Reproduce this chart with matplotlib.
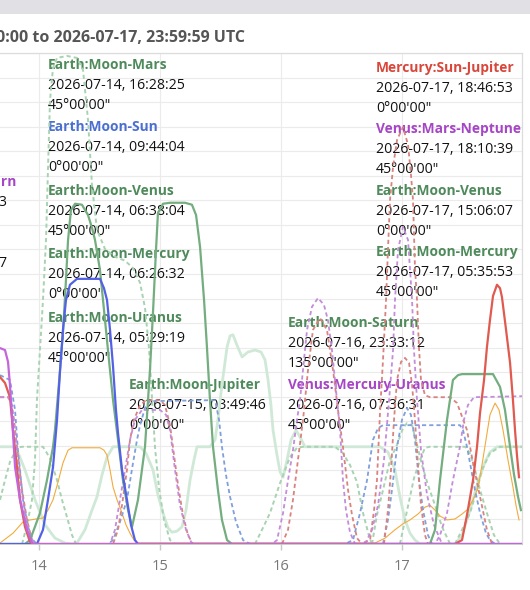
import matplotlib
matplotlib.use('Agg')
import matplotlib.pyplot as plt
from matplotlib.patches import Rectangle

plt.rcParams['font.family'] = ['Open Sans', 'DejaVu Sans']
plt.rcParams['lines.scale_dashes'] = False

# ---------------- data (day of July 2026, orb strength 0-100) ----------------
tick_days = [14, 15, 16, 17]
tick_labels = ["14", "15", "16", "17"]

green_solid_t = [13.678, 13.884, 13.926, 14.008, 14.066, 14.116, 14.132, 14.174, 14.198, 14.223, 14.240, 14.264,
                 14.298, 14.355, 14.405, 14.438, 14.463, 14.504, 14.529, 14.570, 14.612, 14.653, 14.694, 14.736,
                 14.769, 14.818, 14.876, 14.917, 14.942, 14.967, 14.983, 15.025, 15.083, 15.207, 15.264, 15.298,
                 15.331, 15.364, 15.388, 15.413, 15.438, 15.479, 15.512, 15.554, 15.595, 17.231, 17.273, 17.314,
                 17.372, 17.421, 17.463, 17.496, 17.752, 17.810, 17.851, 17.893, 17.926, 17.959, 17.983]
green_solid_v = [0, 0, 0.8, 6.3, 13.0, 19.8, 23.2, 35.4, 43.0, 53.8, 61.9, 68.0,
                 69.3, 69.1, 67.0, 64.4, 61.9, 55.8, 49.7, 39.5, 29.3, 21.2, 13.0, 6.9,
                 3.5, 9.0, 19.8, 35.4, 47.1, 59.9, 67.4, 69.3, 69.5, 69.5, 69.1, 67.0,
                 60.5, 49.7, 40.1, 29.3, 19.8, 11.0, 4.9, 0.8, 0, 0, 2.9, 13.0,
                 25.3, 33.4, 34.4, 34.6, 34.6, 32.0, 27.3, 19.8, 14.1, 9.6, 6.9]

blue_solid_t = [13.678, 13.983, 14.033, 14.074, 14.116, 14.149, 14.174, 14.198, 14.223, 14.256, 14.314, 14.504,
                14.537, 14.562, 14.587, 14.612, 14.636, 14.653, 14.686, 14.727, 14.760, 14.793, 14.818, 17.992]
blue_solid_v = [0, 0, 2.9, 9.0, 15.7, 25.3, 35.4, 43.6, 49.7, 52.8, 54.0, 54.0,
                52.1, 49.7, 43.6, 36.1, 27.3, 22.6, 15.1, 9.0, 3.9, 0.8, 0, 0]

red_solid_t = [13.678, 13.719, 13.760, 13.785, 13.818, 13.843, 13.884, 13.926, 13.959, 17.438, 17.496, 17.537,
               17.587, 17.620, 17.645, 17.678, 17.702, 17.727, 17.752, 17.785, 17.810, 17.826, 17.860, 17.893,
               17.917, 17.934, 17.950, 17.967]
red_solid_v = [34.0, 32.8, 29.9, 23.2, 15.7, 9.0, 3.5, 0.4, 0, 0, 0.8, 5.9,
               13.0, 19.8, 26.7, 33.4, 40.1, 45.6, 50.5, 52.8, 52.1, 50.3, 43.6, 36.9,
               29.3, 23.2, 18.1, 13.6]

purple_solid_t = [13.678, 13.719, 13.744, 13.760, 13.777, 13.802, 13.843, 13.901, 13.942, 13.967, 17.992]
purple_solid_v = [39.9, 39.5, 37.1, 32.4, 25.9, 15.7, 9.0, 2.9, 0.2, 0, 0]

blue_dash_t = [13.678, 13.760, 13.802, 13.826, 13.868, 13.909, 13.950, 13.983,
               14.570, 14.612, 14.669, 14.727, 14.777, 14.810, 14.835, 14.876, 14.917, 15.455, 15.488, 15.512,
               15.545, 15.579, 15.628, 15.686, 15.744,
               16.529, 16.595, 16.653, 16.711, 16.760, 16.802, 16.843, 17.479, 17.504, 17.537, 17.562, 17.603,
               17.645, 17.694, 17.727, 17.769, 17.992]
blue_dash_v = [34.4, 33.4, 27.3, 19.1, 9.0, 3.5, 0.8, 0,
               0, 0.8, 4.5, 9.0, 16.5, 21.2, 24.2, 27.7, 29.1, 29.3, 25.3, 19.8,
               14.1, 9.6, 4.5, 0.8, 0,
               0, 0.8, 6.3, 13.0, 21.2, 23.6, 24.2, 24.2, 23.2, 19.8, 16.5, 11.0,
               6.3, 2.2, 0.8, 0, 0]

blue_dash2_t = [16.843, 16.884, 16.917, 16.959, 17.000, 17.041, 17.074, 17.107, 17.140, 17.174, 17.215, 17.248]
blue_dash2_v = [0, 4.9, 11.0, 19.8, 25.3, 27.7, 26.3, 21.2, 13.0, 6.9, 1.8, 0]

red_dash_t = [13.678, 13.760, 13.793, 13.826, 13.860, 13.901, 13.942, 13.967,
              14.612, 14.653, 14.686, 14.727, 14.752, 14.785, 14.835, 14.884, 15.000, 15.041, 15.083, 15.116,
              15.149, 15.190, 15.231, 15.273,
              16.653, 16.736, 16.769, 16.793, 16.818, 16.843, 16.868, 16.884, 16.901, 16.926, 16.959, 17.008,
              17.050, 17.074, 17.091, 17.107, 17.124, 17.140, 17.157, 17.190, 17.231, 17.397, 17.455, 17.537,
              17.587, 17.645, 17.702, 17.744]
red_dash_v = [29.9, 29.9, 25.3, 18.1, 11.0, 4.9, 0.8, 0,
              0, 2.9, 7.9, 15.1, 21.2, 25.3, 28.3, 29.3, 29.3, 28.3, 24.2, 18.1,
              12.0, 5.9, 1.8, 0,
              0, 0.8, 6.9, 13.0, 26.7, 37.5, 49.7, 59.9, 70.1, 76.8, 82.3, 84.9,
              81.3, 75.2, 70.1, 56.4, 49.7, 40.1, 33.4, 30.3, 29.9, 29.9, 28.7, 23.2,
              16.5, 9.6, 2.9, 0]

red_dash2_t = [16.851, 16.884, 16.909, 16.934, 16.959, 16.992, 17.025, 17.058, 17.083, 17.107, 17.132,
               17.157, 17.190, 17.215]
red_dash2_v = [0, 6.9, 15.1, 25.3, 33.4, 37.1, 37.9, 36.9, 32.4, 25.3, 16.1, 7.9, 1.8, 0]

red_dash3_t = [16.008, 16.058, 16.099, 16.140, 16.182, 16.223, 16.264, 16.322, 16.380, 16.430, 16.471,
               16.512, 16.554, 16.587, 16.628, 16.669]
red_dash3_v = [0, 2.9, 9.0, 17.1, 25.3, 35.4, 43.6, 46.0, 43.6, 35.4, 27.3, 19.8, 11.0, 5.9, 1.2, 0]

purple_dash_t = [13.678, 13.744, 13.777, 13.810, 13.843, 13.884, 13.926, 13.959,
                 14.587, 14.628, 14.669, 14.711, 14.752, 14.793, 14.851, 15.000, 15.050, 15.083, 15.124,
                 15.165, 15.215, 15.264,
                 15.926, 15.967, 16.017, 16.058, 16.099, 16.132, 16.157, 16.190, 16.215, 16.256, 16.306,
                 16.355, 16.388, 16.421, 16.446, 16.471, 16.488, 16.512, 16.537, 16.570, 16.612,
                 17.273, 17.314, 17.372, 17.421, 17.479, 17.512, 17.545, 17.595, 17.992]
purple_dash_v = [29.9, 29.9, 28.3, 21.2, 13.0, 5.9, 1.8, 0,
                 0, 2.9, 9.0, 15.1, 21.2, 25.3, 27.3, 27.3, 26.3, 23.2, 15.1,
                 7.9, 2.9, 0,
                 0, 0.8, 6.3, 13.0, 19.1, 25.3, 29.3, 37.5, 43.6, 48.3, 50.1,
                 48.7, 45.6, 39.5, 33.4, 27.3, 23.2, 13.0, 6.9, 2.4, 0,
                 0, 1.8, 6.3, 13.0, 19.8, 25.3, 28.3, 29.9, 30.1]

purple_dash2_t = [16.694, 16.752, 16.802, 16.851, 16.893, 16.926, 16.942, 16.967, 17.008, 17.050, 17.083,
                  17.099, 17.124, 17.157, 17.207, 17.264, 17.331]
purple_dash2_v = [0, 2.9, 7.9, 17.1, 29.3, 39.5, 49.7, 59.9, 64.6, 61.9, 49.7, 39.5, 29.3, 19.1, 10.0, 3.9, 0]

orange_t = [13.678, 13.785, 13.868, 13.926, 14.033, 14.074, 14.116, 14.157, 14.198, 14.240, 14.273, 14.504,
            14.537, 14.562, 14.587, 14.612, 14.645, 14.686, 14.719, 14.752, 14.785, 14.818, 16.777, 16.860,
            16.942, 17.008, 17.066, 17.132, 17.190, 17.231, 17.273, 17.314, 17.372, 17.438, 17.496, 17.545,
            17.587, 17.628, 17.661, 17.694, 17.727, 17.769, 17.802, 17.835, 17.876, 17.917, 17.942, 17.967]
orange_v = [0.2, 2.2, 4.5, 4.9, 5.3, 6.9, 9.0, 12.6, 16.5, 19.1, 19.6, 19.6,
            19.1, 18.1, 15.1, 11.6, 9.0, 6.3, 3.9, 2.2, 0.8, 0.2, 0.2, 1.2,
            2.9, 4.1, 4.9, 6.1, 7.5, 7.9, 6.9, 5.7, 4.9, 5.1, 6.1, 7.1,
            9.0, 11.4, 16.1, 21.2, 26.3, 28.7, 27.3, 23.2, 17.1, 11.6, 7.9, 4.9]

pale_solid_t = [13.678, 13.785, 13.826, 13.884, 13.967, 14.050, 14.132, 14.215, 14.273, 14.314, 14.380, 14.438,
                14.479, 14.521, 14.562, 14.612, 14.835, 14.884, 14.942, 14.983, 15.025, 15.066, 15.099, 15.140,
                15.182, 15.215, 15.248, 15.281, 15.306, 15.413, 15.455, 15.479, 15.512, 15.554, 15.579, 15.603,
                15.636, 15.678, 15.727, 15.785, 15.835, 15.868, 15.893, 15.917, 15.934, 15.967, 15.992, 16.017,
                16.050, 16.083, 16.124, 16.157, 16.198, 16.818, 16.884, 16.942, 16.983, 17.025, 17.066, 17.107,
                17.149, 17.438, 17.496, 17.562, 17.620, 17.686, 17.727, 17.785, 17.992]
pale_solid_v = [19.8, 19.8, 18.7, 15.1, 9.0, 3.9, 1.2, 0.2, 0, 0.2, 2.9, 6.9,
                9.6, 14.1, 17.7, 19.8, 19.8, 18.5, 15.1, 10.0, 6.3, 3.3, 2.4, 2.6,
                3.5, 6.9, 13.0, 17.1, 19.8, 19.8, 21.2, 25.3, 32.4, 40.1, 42.4, 42.6,
                40.5, 38.1, 39.1, 39.5, 39.1, 37.5, 33.4, 28.3, 23.2, 18.1, 14.7, 13.6,
                17.1, 21.2, 23.2, 21.8, 19.8, 19.8, 18.7, 15.1, 9.6, 4.9, 2.2, 0.8,
                0, 0, 1.8, 6.9, 12.0, 16.7, 18.7, 19.8, 19.8]

green_dash_t = [13.860, 13.901, 13.942, 13.967, 13.983, 14.008, 14.033, 14.058, 14.074, 14.091, 14.116, 14.149,
                14.231, 14.314, 14.364, 14.405, 14.438, 14.479, 14.545, 14.628, 14.711, 14.777, 14.835, 14.876,
                14.909, 14.934, 14.959, 14.992, 15.033, 15.083, 15.124]
green_dash_v = [0, 3.9, 9.0, 17.1, 29.3, 39.5, 49.7, 61.9, 76.2, 90.4, 97.0, 99.0,
                99.4, 99.0, 96.5, 86.4, 73.1, 64.0, 60.1, 58.5, 57.7, 56.2, 53.2, 48.1,
                39.9, 29.7, 19.6, 11.4, 4.9, 0.8, 0]

green_dash2_t = [13.678, 13.719, 13.760, 13.818, 13.860, 14.033, 14.091, 14.149, 14.190, 14.231, 14.273, 14.306]
green_dash2_v = [9.0, 13.0, 16.7, 19.6, 19.8, 19.8, 17.5, 13.0, 9.0, 5.5, 1.8, 0]

green_dash3_t = [15.785, 15.843, 15.909, 15.992, 16.074, 16.132, 16.182, 16.446, 16.512, 16.570, 16.628,
                 16.678, 16.736, 16.760]
green_dash3_v = [0, 2.9, 6.3, 12.4, 17.7, 19.6, 19.8, 19.8, 18.5, 16.1, 12.6, 6.3, 0.8, 0]

green_dash4_t = [16.752, 16.793, 16.843, 16.901, 16.959, 17.008, 17.041, 17.083, 17.124, 17.165, 17.215,
                 17.273, 17.331, 17.397]
green_dash4_v = [0, 5.9, 11.0, 17.1, 20.2, 23.6, 24.6, 24.2, 20.2, 16.1, 12.0, 7.9, 3.5, 0]

green_dash5_t = [16.983, 17.025, 17.066, 17.099, 17.149, 17.190, 17.231, 17.521, 17.562, 17.603, 17.645,
                 17.702, 17.760, 17.810]
green_dash5_v = [0, 4.9, 9.6, 13.4, 17.1, 19.6, 19.8, 19.8, 18.5, 15.1, 11.0, 6.3, 1.8, 0]

green_dash6_t = [17.438, 17.496, 17.562, 17.620, 17.661, 17.727, 17.810, 17.992]
green_dash6_v = [0, 2.9, 6.3, 11.0, 15.1, 18.5, 19.8, 19.8]

# annotation blocks: label, colour key, date, angle
EARTH, SUN, MERC, VENUS = '#4f8a5b', '#4b6fd1', '#d9473b', '#a646c6'
ann_labels = ["Venus:Uranus-Saturn", "Earth:Moon-Sun",
              "Earth:Moon-Mars", "Earth:Moon-Sun", "Earth:Moon-Venus", "Earth:Moon-Mercury", "Earth:Moon-Uranus",
              "Earth:Moon-Jupiter",
              "Earth:Moon-Saturn", "Venus:Mercury-Uranus",
              "Mercury:Sun-Jupiter", "Venus:Mars-Neptune", "Earth:Moon-Venus", "Earth:Moon-Mercury"]
ann_colors = [VENUS, SUN, EARTH, SUN, EARTH, EARTH, EARTH, EARTH, EARTH, VENUS, MERC, VENUS, EARTH, EARTH]
ann_dates = ["2026-07-13, 21:04:13", "2026-07-13, 18:51:37",
             "2026-07-14, 16:28:25", "2026-07-14, 09:44:04", "2026-07-14, 06:38:04", "2026-07-14, 06:26:32",
             "2026-07-14, 05:29:19", "2026-07-15, 03:49:46", "2026-07-16, 23:33:12", "2026-07-16, 07:36:31",
             "2026-07-17, 18:46:53", "2026-07-17, 18:10:39", "2026-07-17, 15:06:07", "2026-07-17, 05:35:53"]
ann_angles = ["0°00'00\"", "0°00'00\"",
              "45°00'00\"", "0°00'00\"", "45°00'00\"", "0°00'00\"", "45°00'00\"", "0°00'00\"",
              "135°00'00\"", "45°00'00\"", "0°00'00\"", "45°00'00\"", "0°00'00\"", "45°00'00\""]

title = "Aspects from 2026-07-14, 00:00:00 to 2026-07-17, 23:59:59 UTC"

# ---------------- figure ----------------
W, H = 530, 590
fig = plt.figure(figsize=(W / 100, H / 100), dpi=100)
fig.patches.append(Rectangle((0, 1 - 14 / H), 1, 14 / H, transform=fig.transFigure,
                             facecolor='#e1e0e4', edgecolor='none', zorder=0))

ax = fig.add_axes([0, 1 - 544 / H, 522 / W, (544 - 53) / H])
ax.set_xlim(13.6777, 17.9917)
ax.set_ylim(0, 100)
ax.set_yticks(range(0, 101, 5))
ax.set_xticks(tick_days)
ax.set_xticklabels(tick_labels)
ax.grid(True, color='#ebebeb', lw=0.8, zorder=0)
ax.set_axisbelow(True)
ax.tick_params(axis='y', length=0, labelleft=False)
ax.tick_params(axis='x', length=4, width=1, color='#c8c8c8', labelcolor='#777777', labelsize=10.5, pad=7)
ax.spines['left'].set_visible(False)
for s in ('top', 'right'):
    ax.spines[s].set_color('#dcdcdc')
    ax.spines[s].set_linewidth(0.9)
ax.spines['bottom'].set_color('#c4c4c4')
ax.spines['bottom'].set_linewidth(1.2)

DASH = (3.0, 2.2)
PALE = '#d0e9d7'
GD = '#a8d3b1'

ax.plot(pale_solid_t, pale_solid_v, color=PALE, lw=2.0, zorder=2, solid_joinstyle='round')
for t, v in [(green_dash_t, green_dash_v), (green_dash2_t, green_dash2_v), (green_dash3_t, green_dash3_v),
             (green_dash4_t, green_dash4_v), (green_dash5_t, green_dash5_v), (green_dash6_t, green_dash6_v)]:
    ax.plot(t, v, color=GD, lw=1.4, dashes=DASH, zorder=3)
ax.plot(orange_t, orange_v, color='#f2ab3c', lw=0.8, zorder=4)
ax.plot(blue_dash_t, blue_dash_v, color='#7f9fdd', lw=1.3, dashes=DASH, zorder=5)
ax.plot(blue_dash2_t, blue_dash2_v, color='#7f9fdd', lw=1.3, dashes=DASH, zorder=5)
ax.plot(red_dash_t, red_dash_v, color='#d9837e', lw=1.3, dashes=DASH, zorder=5)
ax.plot(red_dash2_t, red_dash2_v, color='#d9837e', lw=1.3, dashes=DASH, zorder=5)
ax.plot(red_dash3_t, red_dash3_v, color='#d9837e', lw=1.3, dashes=DASH, zorder=5)
ax.plot(purple_dash_t, purple_dash_v, color='#c48cda', lw=1.3, dashes=DASH, zorder=5)
ax.plot(purple_dash2_t, purple_dash2_v, color='#c48cda', lw=1.3, dashes=DASH, zorder=5)
ax.plot(green_solid_t, green_solid_v, color='#74ad7f', lw=1.6, zorder=6)
ax.plot(blue_solid_t, blue_solid_v, color='#5361e6', lw=1.6, zorder=6)
ax.plot(red_solid_t, red_solid_v, color='#e05a4f', lw=1.6, zorder=6)
ax.plot(purple_solid_t, purple_solid_v, color='#c266da', lw=1.6, zorder=6)

# ---------------- text ----------------
def ftext(x, y, s, **kw):
    ax.text(x / W, 1 - y / H, s, transform=fig.transFigure, clip_on=False, zorder=1.5, **kw)

ftext(245, 38, title, ha='right', va='center', fontsize=11.5, fontweight='bold', color='#555555')

block_pos = [(-130, 182), (-130, 243),
             (48, 65), (48, 127), (48, 191), (48, 254), (48, 318),
             (129, 385), (288, 323), (288, 385),
             (376, 68), (376, 129), (376, 191), (376, 252)]
FS_LAB = 9.9
FS = 10.2
for (x, y), lab, col, d, a in zip(block_pos, ann_labels, ann_colors, ann_dates, ann_angles):
    ftext(x, y, lab, ha='left', va='center', fontsize=FS_LAB, fontweight='bold', color=col)
    ftext(x, y + 20.5, d, ha='left', va='center', fontsize=FS, color='#111111')
    ftext(x, y + 40.5, a, ha='left', va='center', fontsize=FS, color='#111111')

fig.savefig('out.png', dpi=100)
